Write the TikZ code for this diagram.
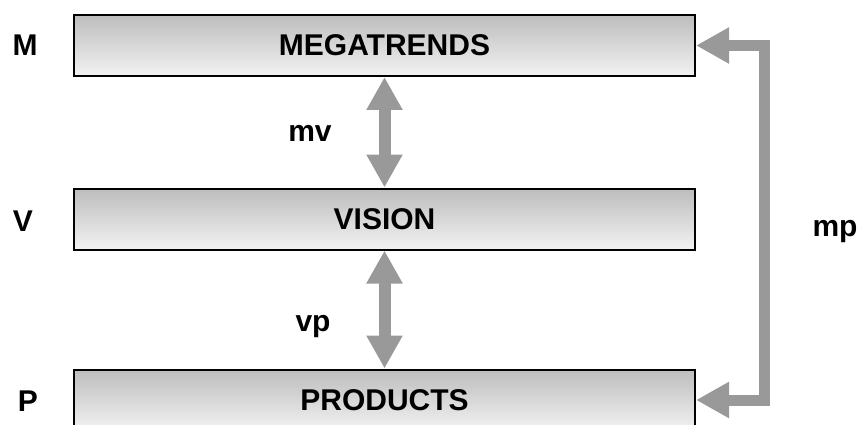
\documentclass[tikz,border=0pt]{standalone}
\usepackage{fontspec}
\setmainfont{Liberation Sans}
\usetikzlibrary{arrows.meta}

\tikzset{
  box/.style={draw, line width=2pt, minimum width=621pt, minimum height=61pt,
    inner sep=0pt, top color=black!26, bottom color=black!5,
    font=\bfseries\fontsize{30}{36}\selectfont},
  lbl/.style={anchor=base, font=\bfseries\fontsize{30}{36}\selectfont},
  link/.style={color=black!40, line width=12pt, line join=miter,
    {Triangle[width=34pt,length=33pt]}-{Triangle[width=34pt,length=33pt]}}
}

\begin{document}
\begin{tikzpicture}[x=1pt, y=-1pt]

  \useasboundingbox (0,0) rectangle (861,425);

  \node [box] (m) at (384.5, 45.5) {MEGATRENDS};
  \node [box] (v) at (384.5, 219) {VISION};
  \node [box] (p) at (384.5, 400) {PRODUCTS};

  \node [lbl] (lm) at (25, 56) {M};
  \node [lbl] (lv) at (23, 231) {V};
  \node [lbl] (lp) at (28, 411) {P};
  \node [lbl] (mv) at (310, 141) {mv};
  \node [lbl] (vp) at (313, 331) {vp};
  \node [lbl] (mp) at (835, 236) {mp};

  \draw [link] (m) -- (v);
  \draw [link] (v) -- (p);
  \draw [link, line width=11pt] (m.east) -- ++(68,0) |- (p.east);

\end{tikzpicture}
\end{document}
